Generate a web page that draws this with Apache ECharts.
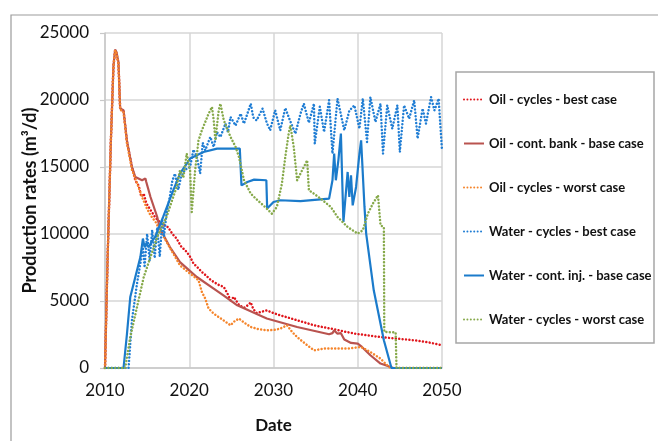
<!DOCTYPE html>
<html>
<head>
<meta charset="utf-8">
<script src="https://cdn.jsdelivr.net/npm/echarts@6/dist/echarts.min.js"></script>
<style>
html,body{margin:0;padding:0;background:#fff;}
#chart{width:658px;height:441px;}
</style>
</head>
<body>
<div id="chart"></div>
<script>
// ---------- DATA ----------
const seriesNames = [
  'Oil - cycles - best case',
  'Oil - cont. bank - base case',
  'Oil - cycles - worst case',
  'Water - cycles - best case',
  'Water - cont. inj. - base case',
  'Water - cycles - worst case'
];

const xTicks = [2010, 2020, 2030, 2040, 2050];
const yTicks = [0, 5000, 10000, 15000, 20000, 25000];

const oilBestYears = [2010.0,2010.3,2010.7,2011.0,2011.2,2011.35,2011.6,2011.8,2012.2,2012.6,2013.2,2013.6,2014.0,2014.3,2014.6,2014.9,2015.4,2015.9,2016.3,2016.9,2017.5,2018.0,2018.5,2019.0,2019.7,2020.1,2020.5,2021.0,2021.5,2022.0,2022.5,2022.9,2023.5,2024.1,2024.5,2024.9,2025.3,2025.9,2026.5,2027.0,2027.3,2027.6,2028.0,2028.6,2029.2,2030.0,2030.8,2031.8,2032.8,2033.8,2034.8,2035.8,2036.8,2038.2,2039.6,2041.0,2042.7,2044.5,2046.7,2048.5,2050.0];
const oilBestValues = [0,8000,17000,22500,23700,23500,22700,19300,19200,16900,15000,14000,13600,12800,13000,12300,11800,11300,11000,10700,10500,10000,9660,9100,8660,8300,7800,7500,7160,6900,6600,6420,6200,6050,5600,5050,5300,4700,4500,4700,4900,4400,4100,4200,4300,4100,3930,3750,3560,3380,3190,3060,2940,2750,2570,2450,2310,2200,2070,1900,1690];

const oilBaseYears = [2010.0,2010.3,2010.7,2011.0,2011.2,2011.35,2011.6,2011.8,2012.2,2012.6,2013.2,2013.6,2014.4,2014.8,2014.9,2015.4,2016.2,2016.5,2017.7,2018.9,2020.1,2020.9,2022.9,2024.1,2025.7,2029.2,2032.8,2036.6,2037.0,2037.2,2037.6,2038.0,2038.4,2039.2,2040.0,2040.5,2041.5,2042.7,2043.9,2044.2,2050.0];
const oilBaseValues = [0,8000,17000,22500,23760,23600,22840,19360,19230,16990,15000,14250,14010,14150,13880,12760,11270,10430,9030,7900,7230,6790,5920,5400,4680,3690,3060,2515,2600,2810,2560,2600,2120,1870,1820,1570,950,330,75,0,0];

const oilWorstYears = [2010.0,2010.3,2010.7,2011.0,2011.2,2011.35,2011.6,2011.8,2012.2,2012.6,2013.2,2013.8,2014.4,2014.9,2015.4,2016.0,2016.5,2017.5,2018.9,2020.1,2020.6,2021.1,2021.5,2021.9,2022.3,2022.9,2023.5,2024.2,2024.9,2025.4,2025.9,2026.5,2027.3,2028.2,2029.2,2030.2,2030.8,2031.6,2032.2,2032.8,2033.8,2034.8,2035.4,2036.0,2037.5,2038.8,2040.4,2041.5,2042.7,2043.7,2044.0,2050.0];
const oilWorstValues = [0,8000,17000,22500,23700,23500,22700,19300,19100,16800,14800,13800,12760,12000,11400,10900,10300,9200,7660,7040,6800,6550,5670,5180,4430,4060,3800,3500,3190,3500,3690,3400,3060,2900,2810,2850,2940,3190,2700,2310,1800,1320,1380,1450,1460,1450,1570,1190,700,75,0,0];

const waterBestYears = [2010.0,2012.8,2013.2,2013.8,2014.2,2014.5,2014.7,2015.0,2015.3,2015.6,2015.9,2016.2,2016.5,2016.8,2017.0,2017.3,2017.7,2018.0,2018.3,2018.7,2019.0,2019.5,2020.1,2020.5,2020.9,2021.3,2021.6,2021.9,2022.5,2022.9,2023.3,2023.7,2024.3,2024.6,2024.9,2025.5,2026.1,2026.5,2027.3,2027.6,2028.0,2028.7,2029.2,2029.6,2030.2,2030.8,2031.4,2032.0,2032.6,2033.2,2033.6,2034.2,2034.8,2034.9,2035.5,2036.0,2036.6,2037.0,2037.6,2038.4,2039.0,2039.6,2040.2,2040.6,2041.1,2041.5,2042.1,2042.7,2043.0,2043.5,2044.1,2044.7,2045.0,2045.5,2046.1,2046.7,2047.1,2047.7,2048.1,2048.7,2049.1,2049.6,2050.0];
const waterBestValues = [0,0,3560,6300,7800,9000,7500,10000,8000,10300,8200,10500,8300,11000,9800,11500,12800,14000,14500,13300,14200,14800,15000,16300,15750,14510,16800,16250,17240,16500,17600,17240,18240,17600,18730,18100,18980,18240,19730,18700,18480,19360,18300,17740,19230,17740,19400,18400,17490,18980,19730,18300,19730,16750,19500,17610,19980,16000,20100,17740,19200,19600,17860,20100,16870,20220,18360,19730,16000,19600,17860,19600,16120,19600,18610,19980,17120,19360,18240,20220,19230,20100,16250];

const waterBaseYears = [2010.0,2012.2,2012.6,2013.0,2013.6,2014.2,2014.5,2014.7,2014.9,2015.2,2015.6,2015.95,2016.9,2018.1,2018.9,2020.1,2021.7,2023.3,2026.0,2026.2,2026.9,2027.7,2029.15,2029.25,2030.0,2030.8,2033.2,2036.6,2037.0,2037.2,2037.4,2037.7,2038.0,2038.3,2038.8,2039.0,2039.2,2039.4,2039.8,2040.2,2040.4,2040.8,2041.0,2041.9,2043.1,2044.0,2050.0];
const waterBaseValues = [0,0,2500,5300,6790,8280,9660,9000,9300,9030,9500,9780,11270,13260,14510,15630,16120,16370,16370,13630,13880,14060,14010,11900,12390,12520,12460,12640,14010,16000,14010,15500,17490,10900,14630,12760,14380,12140,13510,16000,16990,12020,10030,5800,2070,0,0];

const waterWorstYears = [2010.0,2012.4,2013.0,2013.8,2014.6,2015.4,2016.2,2017.3,2018.5,2018.9,2019.3,2019.7,2020.1,2020.3,2020.7,2021.1,2021.5,2022.3,2022.7,2022.9,2023.1,2023.5,2023.7,2024.1,2024.9,2025.5,2025.9,2026.5,2027.3,2028.1,2029.0,2029.8,2030.4,2031.0,2031.4,2031.8,2032.0,2032.4,2032.8,2033.2,2033.6,2034.0,2034.2,2034.8,2035.6,2036.8,2037.6,2038.8,2040.0,2040.6,2041.2,2041.8,2042.4,2042.6,2042.7,2043.1,2043.15,2044.5,2044.6,2050.0];
const waterWorstValues = [0,0,2310,4550,6790,8280,9780,11270,13510,14750,14200,16000,14750,11640,14750,16990,17740,18980,19480,18500,16990,19230,19730,18480,17240,16500,15750,14010,13010,12520,12020,11520,12020,13760,15750,17490,18110,16500,14010,14510,15000,15500,13260,13010,12640,12020,11270,10520,10030,10280,11520,12270,12890,12890,10650,10520,2700,2650,0,0];

// ---------- BUILD ----------
function zip(xs, ys) { return xs.map((x, i) => [x, ys[i]]); }

const seriesData = [
  zip(oilBestYears, oilBestValues),
  zip(oilBaseYears, oilBaseValues),
  zip(oilWorstYears, oilWorstValues),
  zip(waterBestYears, waterBestValues),
  zip(waterBaseYears, waterBaseValues),
  zip(waterWorstYears, waterWorstValues)
];

const colors = ['#E0151B', '#B9534F', '#F5852C', '#1F7DD4', '#1B7BCB', '#86A94A'];
const dotted = [0.01, 3.4];
const styles = [
  { width: 2.5, type: dotted, cap: 'round' },
  { width: 2.2, type: 'solid', cap: 'butt' },
  { width: 2.5, type: dotted, cap: 'round' },
  { width: 2.5, type: dotted, cap: 'round' },
  { width: 2.2, type: 'solid', cap: 'butt' },
  { width: 2.5, type: dotted, cap: 'round' }
];

const FONT = 'Lato';

const chart = echarts.init(document.getElementById('chart'), null, { renderer: 'canvas' });

chart.setOption({
  animation: false,
  backgroundColor: '#ffffff',
  color: colors,
  grid: { left: 105, top: 33, width: 337, height: 335, containLabel: false },
  graphic: [
    {
      type: 'polyline',
      shape: { points: [[11, 441], [11, 15], [658, 15]] },
      style: { stroke: '#9c9c9c', lineWidth: 1.2, fill: null },
      silent: true
    },
    {
      type: 'rect',
      shape: { x: 456, y: 72, width: 198, height: 271 },
      style: { stroke: '#a6a6a6', lineWidth: 1.5, fill: '#fff' },
      z: 0,
      silent: true
    }
  ],
  legend: {
    orient: 'vertical',
    left: 458,
    top: 88,
    itemWidth: 20,
    itemHeight: 14,
    itemGap: 31,
    itemStyle: { opacity: 0 },
    textStyle: { fontFamily: FONT, fontWeight: 'bold', fontSize: 13, color: '#111' },
    data: seriesNames
  },
  xAxis: {
    type: 'value',
    min: xTicks[0],
    max: xTicks[xTicks.length - 1],
    interval: 10,
    name: 'Date',
    nameLocation: 'middle',
    nameGap: 49,
    nameTextStyle: { fontFamily: FONT, fontWeight: 'bold', fontSize: 17, color: '#111' },
    axisLine: { show: true, onZero: false, lineStyle: { color: '#c8c8c8', width: 1.5 } },
    axisTick: { show: false },
    axisLabel: { fontFamily: FONT, fontSize: 17, color: '#111', margin: 14, formatter: v => String(v) },
    splitLine: { show: true, lineStyle: { color: '#d6d6d6', width: 1.5 } }
  },
  yAxis: {
    type: 'value',
    min: yTicks[0],
    max: yTicks[yTicks.length - 1],
    interval: 5000,
    name: 'Production rates (m³/d)',
    nameLocation: 'middle',
    nameRotate: 90,
    nameGap: 66,
    nameMoveOverlap: false,
    nameTextStyle: { fontFamily: FONT, fontWeight: 'bold', fontSize: 18, color: '#111' },
    axisLine: { show: true, lineStyle: { color: '#c8c8c8', width: 1.5 } },
    axisTick: { show: true, length: 5, lineStyle: { color: '#c8c8c8', width: 1.2 } },
    axisLabel: { fontFamily: FONT, fontSize: 17, color: '#111', margin: 16, formatter: v => String(v) },
    splitLine: { show: true, lineStyle: { color: '#d6d6d6', width: 1.5 } }
  },
  series: seriesNames.map((name, i) => ({
    name: name,
    type: 'line',
    data: seriesData[i],
    showSymbol: false,
    symbol: 'none',
    smooth: false,
    clip: true,
    lineStyle: { color: colors[i], width: styles[i].width, type: styles[i].type, cap: styles[i].cap },
    itemStyle: { color: colors[i] },
    z: 2 + i
  }))
});
</script>
</body>
</html>
